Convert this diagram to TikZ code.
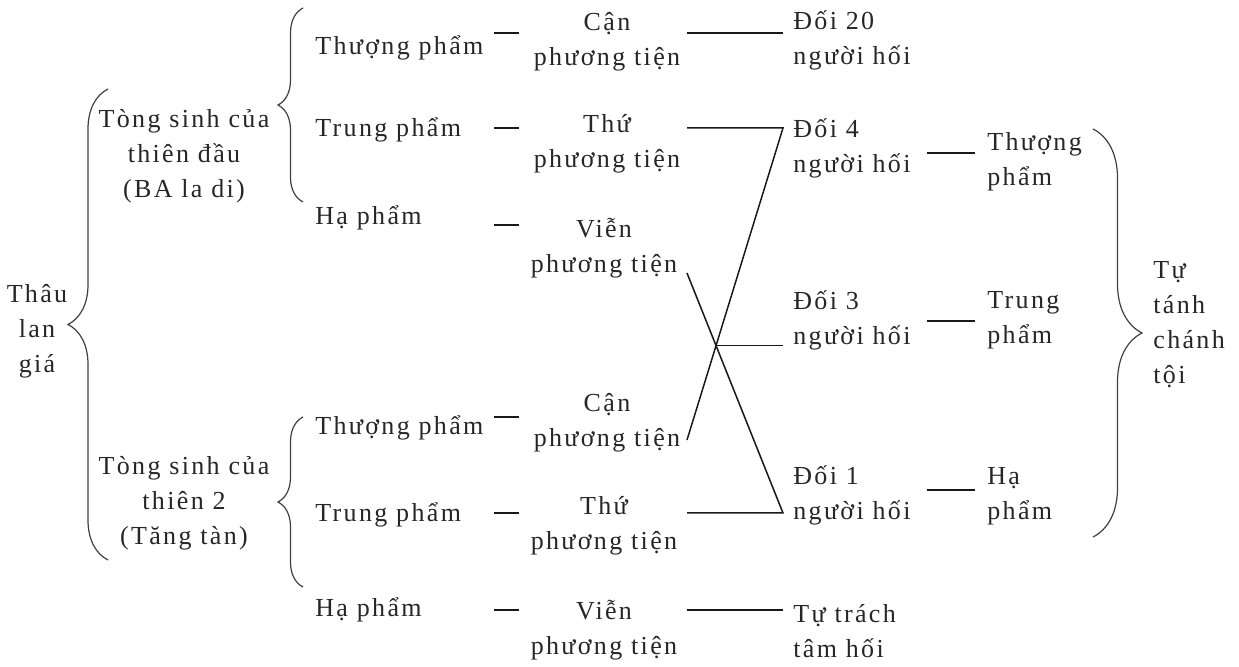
\documentclass[tikz,border=0pt]{standalone}
\usepackage{fontspec}
\setmainfont{Liberation Serif}[LetterSpace=9]
\usetikzlibrary{decorations.pathreplacing}

\begin{document}
\begin{tikzpicture}[x=0.5pt, y=-0.5pt,
    txt/.style={inner sep=0pt, font=\fontsize{13}{17.5}\selectfont, text=black!85},
    lt/.style={txt, anchor=base west, align=left},
    ct/.style={txt, anchor=base, align=center},
    ln/.style={line width=0.75pt, black!90},
    brc/.style={line width=0.6pt, black!75, decorate, decoration={brace, amplitude=#1}},
  ]
  \useasboundingbox (0,0) rectangle (1239,667);

  % left side (multi-line nodes sit on their last baseline)
  \node[ct] (thau) at (37,373) {Thâu\\lan\\giá};
  \node[ct] (tong1) at (184,198) {Tòng sinh của\\thiên đầu\\(BA la di)};
  \node[ct] (tong2) at (184,545) {Tòng sinh của\\thiên 2\\(Tăng tàn)};
  \draw[brc=20pt] (108,560) -- (108,89);
  \draw[brc=12.5pt] (303,202) -- (303,8);
  \draw[brc=12.5pt] (303,587) -- (303,417);

  % pham
  \node[lt] (thuong1) at (315,55) {Thượng phẩm};
  \node[lt] (trung1) at (315,137) {Trung phẩm};
  \node[lt] (ha1) at (315,225) {Hạ phẩm};
  \node[lt] (thuong2) at (315,435) {Thượng phẩm};
  \node[lt] (trung2) at (315,522) {Trung phẩm};
  \node[lt] (ha2) at (315,617) {Hạ phẩm};

  % phuong tien
  \node[ct] (can1) at (607,66) {Cận\\phương tiện};
  \node[ct] (thu1) at (607,168) {Thứ\\phương tiện};
  \node[ct] (vien1) at (604,273) {Viễn\\phương tiện};
  \node[ct] (can2) at (607,447) {Cận\\phương tiện};
  \node[ct] (thu2) at (604,550) {Thứ\\phương tiện};
  \node[ct] (vien2) at (604,655) {Viễn\\phương tiện};

  % so nguoi hoi
  \node[lt] (doi20) at (793,65) {Đối 20\\người hối};
  \node[lt] (doi4) at (793,173) {Đối 4\\người hối};
  \node[lt] (doi3) at (793,345) {Đối 3\\người hối};
  \node[lt] (doi1) at (793,520) {Đối 1\\người hối};
  \node[lt] (tutrach) at (793,658) {Tự trách\\tâm hối};

  \node[lt] (pthuong) at (987,186) {Thượng\\phẩm};
  \node[lt] (ptrung) at (987,344) {Trung\\phẩm};
  \node[lt] (pha) at (987,520) {Hạ\\phẩm};
  \node[lt] (tutanh) at (1153,384) {Tự\\tánh\\chánh\\tội};
  \draw[brc=24.5pt] (1093,129) -- (1093,537);

  % short dashes
  \foreach \y [count=\i] in {33,128,225,417,513,610} {
    \coordinate (m\i a) at (494,\y);
    \coordinate (m\i b) at (519,\y);
    \draw[ln] (m\i a) -- (m\i b);
  }
  \foreach \y [count=\i] in {153,321,490} {
    \coordinate (r\i a) at (927,\y);
    \coordinate (r\i b) at (975,\y);
    \draw[ln] (r\i a) -- (r\i b);
  }

  % line ends
  \foreach \n/\y in {can1/33, thu1/128, vien1/273, can2/440, thu2/513, vien2/610}
    \coordinate (\n-r) at (687,\y);
  \foreach \n/\y in {doi20/33, doi4/128, doi3/345, doi1/513, tutrach/610}
    \coordinate (\n-l) at (783,\y);

  \draw[ln] (can1-r) -- (doi20-l);
  \draw[ln] (thu1-r) -- (doi4-l) -- (can2-r);
  \draw[ln] (vien1-r) -- (doi1-l) -- (thu2-r);
  \coordinate (cross) at (intersection of doi4-l--can2-r and vien1-r--doi1-l);
  \draw[ln] (cross) -- (cross -| doi3-l);
  \draw[ln] (vien2-r) -- (tutrach-l);
\end{tikzpicture}
\end{document}
